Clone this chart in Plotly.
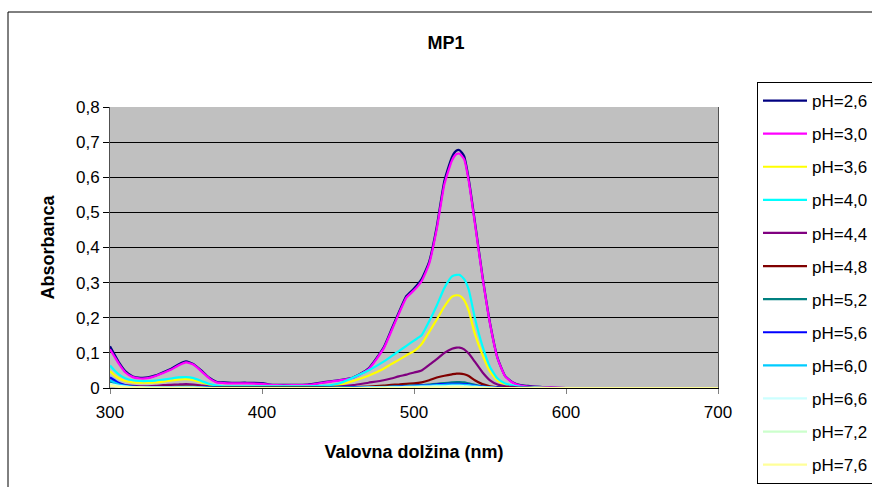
import plotly.graph_objects as go

# Wavelengths (nm)
wl = [300, 303, 306, 310, 315, 320, 325, 330, 335, 340, 345, 350, 355, 360, 365,
      370, 375, 380, 390, 400, 405, 410, 420, 430, 440, 450, 460, 470, 480, 485,
      490, 495, 500, 505, 510, 515, 520, 525, 528, 530, 533, 536, 540, 545, 550,
      555, 560, 565, 570, 575, 580, 590, 600, 650, 700]

p26 = [0.119, 0.095, 0.072, 0.048, 0.033, 0.029, 0.030, 0.036, 0.045, 0.054,
       0.067, 0.076, 0.068, 0.050, 0.030, 0.018, 0.016, 0.015, 0.015, 0.014,
       0.010, 0.009, 0.009, 0.010, 0.016, 0.022, 0.030, 0.055, 0.115, 0.165,
       0.215, 0.262, 0.283, 0.310, 0.360, 0.460, 0.590, 0.658, 0.676, 0.677,
       0.660, 0.595, 0.475, 0.320, 0.185, 0.085, 0.034, 0.016, 0.008, 0.006,
       0.004, 0.001, 0, 0, 0]
p30 = [0.110, 0.089, 0.068, 0.045, 0.031, 0.027, 0.028, 0.034, 0.043, 0.052,
       0.064, 0.073, 0.066, 0.048, 0.029, 0.016, 0.014, 0.013, 0.013, 0.012,
       0.009, 0.008, 0.008, 0.009, 0.015, 0.021, 0.029, 0.053, 0.112, 0.161,
       0.211, 0.257, 0.278, 0.304, 0.354, 0.453, 0.580, 0.648, 0.666, 0.667,
       0.651, 0.589, 0.470, 0.317, 0.183, 0.084, 0.033, 0.015, 0.007, 0.004,
       0.003, 0.001, 0, 0, 0]
p36 = [0.048, 0.036, 0.027, 0.020, 0.016, 0.015, 0.015, 0.016, 0.018, 0.021,
       0.024, 0.025, 0.022, 0.016, 0.009, 0.005, 0.005, 0.004, 0.004, 0.004,
       0.004, 0.004, 0.004, 0.004, 0.005, 0.008, 0.020, 0.035, 0.055, 0.068,
       0.080, 0.093, 0.105, 0.125, 0.160, 0.195, 0.232, 0.260, 0.264, 0.263,
       0.250, 0.220, 0.155, 0.095, 0.047, 0.021, 0.010, 0.005, 0.002, 0.001,
       0.001, 0, 0, 0, 0]
p40 = [0.064, 0.050, 0.038, 0.028, 0.022, 0.020, 0.020, 0.021, 0.024, 0.027,
       0.030, 0.031, 0.028, 0.020, 0.012, 0.007, 0.005, 0.005, 0.005, 0.005,
       0.005, 0.005, 0.005, 0.005, 0.006, 0.012, 0.030, 0.050, 0.075, 0.090,
       0.105, 0.120, 0.135, 0.150, 0.190, 0.235, 0.285, 0.318, 0.322, 0.322,
       0.310, 0.280, 0.200, 0.120, 0.060, 0.027, 0.013, 0.007, 0.003, 0.002,
       0.001, 0, 0, 0, 0]
p44 = [0.022, 0.017, 0.012, 0.008, 0.006, 0.005, 0.005, 0.006, 0.008, 0.009,
       0.010, 0.011, 0.010, 0.007, 0.004, 0.002, 0.002, 0.002, 0.002, 0.002,
       0.002, 0.002, 0.002, 0.002, 0.002, 0.004, 0.008, 0.015, 0.022, 0.027,
       0.033, 0.038, 0.044, 0.050, 0.066, 0.082, 0.100, 0.112, 0.115, 0.115,
       0.110, 0.098, 0.075, 0.045, 0.022, 0.010, 0.005, 0.003, 0.001, 0.001,
       0, 0, 0, 0, 0]
p48 = [0.012, 0.009, 0.006, 0.004, 0.003, 0.002, 0.002, 0.002, 0.003, 0.003,
       0.004, 0.004, 0.004, 0.003, 0.002, 0.001, 0.001, 0.001, 0.001, 0.001,
       0.001, 0.001, 0.001, 0.001, 0.001, 0.001, 0.002, 0.004, 0.007, 0.009,
       0.010, 0.012, 0.013, 0.016, 0.022, 0.030, 0.035, 0.039, 0.041, 0.041,
       0.039, 0.034, 0.022, 0.011, 0.005, 0.002, 0.001, 0, 0, 0,
       0, 0, 0, 0, 0]
p52 = [0.018, 0.012, 0.008, 0.005, 0.003, 0.002, 0.002, 0.002, 0.002, 0.002,
       0.003, 0.003, 0.003, 0.002, 0.001, 0.001, 0.001, 0.001, 0.001, 0.001,
       0.001, 0.001, 0.001, 0.001, 0.001, 0.001, 0.001, 0.002, 0.003, 0.004,
       0.005, 0.006, 0.007, 0.008, 0.010, 0.012, 0.014, 0.016, 0.017, 0.017,
       0.016, 0.013, 0.009, 0.005, 0.002, 0.001, 0, 0, 0, 0,
       0, 0, 0, 0, 0]
p56 = [0.030, 0.022, 0.014, 0.008, 0.004, 0.002, 0.001, 0.001, 0.001, 0.001,
       0.001, 0.001, 0.001, 0.001, 0.001, 0, 0, 0, 0, 0,
       0, 0, 0, 0, 0, 0, 0.001, 0.001, 0.002, 0.003,
       0.004, 0.005, 0.006, 0.007, 0.008, 0.010, 0.011, 0.012, 0.012, 0.012,
       0.011, 0.010, 0.007, 0.004, 0.002, 0.001, 0, 0, 0, 0,
       0, 0, 0, 0, 0]
p60 = [0.022, 0.016, 0.010, 0.006, 0.003, 0.002, 0.001, 0.001, 0.001, 0.001,
       0.002, 0.002, 0.002, 0.001, 0.001, 0, 0, 0, 0, 0,
       0, 0, 0, 0, 0, 0.001, 0.001, 0.002, 0.002, 0.003,
       0.003, 0.004, 0.005, 0.006, 0.007, 0.008, 0.009, 0.010, 0.010, 0.010,
       0.009, 0.008, 0.006, 0.003, 0.001, 0, 0, 0, 0, 0,
       0, 0, 0, 0, 0]
p66 = [0.012, 0.009, 0.006, 0.004, 0.002, 0.001, 0.001, 0.001, 0.001, 0.001,
       0.001, 0.001, 0.001, 0.001, 0, 0, 0, 0, 0, 0,
       0, 0, 0, 0, 0, 0, 0, 0.001, 0.001, 0.002,
       0.002, 0.003, 0.003, 0.004, 0.004, 0.005, 0.005, 0.006, 0.006, 0.006,
       0.005, 0.004, 0.003, 0.002, 0.001, 0, 0, 0, 0, 0,
       0, 0, 0, 0, 0]
p72 = [0.010, 0.007, 0.005, 0.003, 0.002, 0.001, 0.001, 0.001, 0.001, 0.001,
       0.001, 0.001, 0.001, 0, 0, 0, 0, 0, 0, 0,
       0, 0, 0, 0, 0, 0, 0, 0, 0.001, 0.001,
       0.001, 0.002, 0.002, 0.002, 0.003, 0.003, 0.003, 0.004, 0.004, 0.004,
       0.003, 0.003, 0.002, 0.001, 0, 0, 0, 0, 0, 0,
       0, 0, 0, 0, 0]
p76 = [0.007, 0.005, 0.003, 0.002, 0.001, 0.001, 0, 0, 0, 0,
       0, 0, 0, 0, 0, 0, 0, 0, 0, 0,
       0, 0, 0, 0, 0, 0, 0, 0, 0, 0,
       0, 0.001, 0.001, 0.001, 0.001, 0.001, 0.002, 0.002, 0.002, 0.002,
       0.002, 0.001, 0.001, 0, 0, 0, 0, 0, 0, 0,
       0, 0, 0, 0, 0]

series_names = ["pH=2,6", "pH=3,0", "pH=3,6", "pH=4,0", "pH=4,4", "pH=4,8",
                "pH=5,2", "pH=5,6", "pH=6,0", "pH=6,6", "pH=7,2", "pH=7,6"]
series_values = [p26, p30, p36, p40, p44, p48, p52, p56, p60, p66, p72, p76]
series_colors = ["#000080", "#FF00FF", "#FFFF00", "#00FFFF", "#800080", "#800000",
                 "#008080", "#0000FF", "#00CCFF", "#CCFFFF", "#CCFFCC", "#FFFF99"]

y_tickvals = [0, 0.1, 0.2, 0.3, 0.4, 0.5, 0.6, 0.7, 0.8]
y_ticktext = ["0", "0,1", "0,2", "0,3", "0,4", "0,5", "0,6", "0,7", "0,8"]
x_tickvals = [300, 400, 500, 600, 700]

FONT = "Arial, 'Liberation Sans', sans-serif"

fig = go.Figure()
for name, vals, col in zip(series_names, series_values, series_colors):
    fig.add_trace(go.Scatter(x=wl, y=vals, mode="lines", name=name,
                             legendgroup=name,
                             line=dict(color=col, width=2.2, shape="spline",
                                       smoothing=0.5)))

W, H = 872, 487
L, R, T, B = 110, 718, 107, 388   # plot area in pixels


def px_x(px):
    return px / W


def px_y(py):
    return 1 - py / H


fig.update_layout(
    width=W, height=H,
    margin=dict(l=0, r=0, t=0, b=0, autoexpand=False),
    paper_bgcolor="white",
    plot_bgcolor="#C0C0C0",
    font=dict(family=FONT, size=16, color="black"),
    title=dict(text="<b>MP1</b>", x=px_x(446), xref="paper",
               y=px_y(43), yref="paper", xanchor="center", yanchor="middle",
               font=dict(size=18, family=FONT)),
    showlegend=True,
    legend=dict(x=px_x(757), y=px_y(82), xanchor="left", yanchor="top",
                bgcolor="white", bordercolor="black", borderwidth=1,
                font=dict(size=17, family=FONT), tracegroupgap=8.0,
                itemwidth=44),
    shapes=[dict(type="rect", xref="paper", yref="paper",
                 x0=px_x(8), x1=px_x(880),
                 y0=px_y(12), y1=px_y(495),
                 line=dict(color="black", width=1), fillcolor="rgba(0,0,0,0)",
                 layer="below")],
)

fig.update_xaxes(domain=[px_x(L), px_x(R)],
                 range=[300, 700], tickvals=x_tickvals, ticks="outside", ticklen=5,
                 tickcolor="#808080", showline=True, linecolor="black", linewidth=1,
                 showgrid=False, zeroline=False, ticklabelstandoff=4,
                 tickfont=dict(size=17, family=FONT),
                 title=dict(text="<b>Valovna dolžina (nm)</b>", standoff=23,
                            font=dict(size=18, family=FONT)))
fig.update_yaxes(domain=[px_y(B), px_y(T)],
                 range=[0, 0.8], tickvals=y_tickvals, ticktext=y_ticktext,
                 ticks="outside", ticklen=6, tickcolor="black",
                 showline=True, linecolor="#505050", linewidth=1, mirror=True,
                 showgrid=True, gridcolor="black", gridwidth=1, zeroline=False,
                 tickfont=dict(size=17, family=FONT),
                 title=dict(text="<b>Absorbanca</b>", standoff=16,
                            font=dict(size=18, family=FONT)))

fig.write_html("out.html")
